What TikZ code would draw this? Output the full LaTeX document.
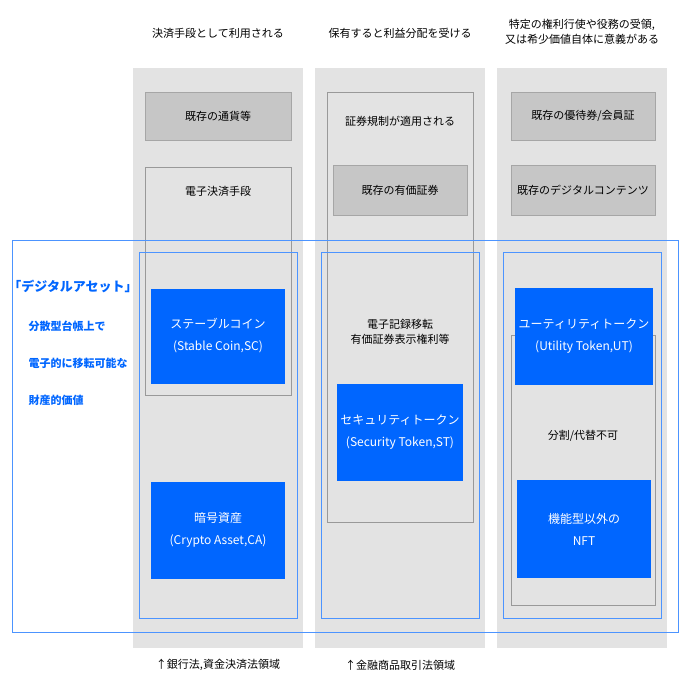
\documentclass[tikz,border=0pt]{standalone}
\usepackage{fontspec}
\setmainfont{Noto Sans CJK JP}
\definecolor{bg}{HTML}{E3E3E3}
\definecolor{dk}{HTML}{C6C6C6}
\definecolor{bl}{HTML}{0066FF}
\begin{document}
\begin{tikzpicture}[x=1pt,y=-1pt,
 t/.style={font=\fontsize{11}{15}\selectfont,align=center},
 col/.style={fill=bg,draw=none},
 dark/.style={fill=dk,draw=gray!70,t},
 outl/.style={draw=gray!80,line width=0.6pt},
 blb/.style={draw=bl!70,line width=0.6pt},
 tok/.style={fill=bl,draw=none,t,text=white,font=\fontsize{12}{22}\selectfont}]
\useasboundingbox (0,0) rectangle (683,683);
\fill[white] (0,0) rectangle (683,683);
\fill[col] (133,68) rectangle (303,648);
\fill[col] (315,68) rectangle (485,648);
\fill[col] (497,68) rectangle (667,648);
\node[t] (h1) at (218,33) {決済手段として利用される};
\node[t] (h2) at (400,33) {保有すると利益分配を受ける};
\node[t] (h3) at (582,32) {特定の権利行使や役務の受領,\\又は希少価値自体に意義がある};
\node[dark,minimum width=146,minimum height=48] (c1) at (218,116) {既存の通貨等};
\node[dark,minimum width=144,minimum height=48] (c3) at (583,116) {既存の優待券/会員証};
\node[dark,minimum width=144,minimum height=50] (c4) at (583,190) {既存のデジタルコンテンツ};
\node[dark,minimum width=134,minimum height=50] (c2) at (400,190) {既存の有価証券};
\draw[outl] (145,167) rectangle (291,395);
\node[t] (e1) at (218,191) {電子決済手段};
\draw[outl] (327,92) rectangle (473,522);
\node[t] (s1) at (400,121) {証券規制が適用される};
\draw[outl] (511,335) rectangle (655,605);
\node[t] (nf) at (583,436) {分割/代替不可};
\node[t] (d1) at (400,332) {電子記録移転\\有価証券表示権利等};
\draw[blb] (12,240) rectangle (678,632);
\draw[blb] (139,252) rectangle (297,618);
\draw[blb] (321,252) rectangle (479,618);
\draw[blb] (503,252) rectangle (661,618);
\node[tok,minimum width=134,minimum height=95] (sc) at (218,336) {ステーブルコイン\\(Stable Coin,SC)};
\node[tok,minimum width=134,minimum height=97] (ca) at (218,530) {暗号資産\\(Crypto Asset,CA)};
\node[tok,minimum width=122,minimum height=97] (st) at (400,432) {セキュリティトークン\\(Security Token,ST)};
\node[tok,minimum width=134,minimum height=97] (ut) at (584,336) {ユーティリティトークン\\(Utility Token,UT)};
\node[tok,minimum width=134,minimum height=98] (nft) at (584,529) {機能型以外の\\NFT};
\node[t,text=bl,font=\fontsize{13}{15}\bfseries] (da) at (73,286) {「デジタルアセット」};
\node[t,text=bl,font=\fontsize{11}{15}\bfseries,anchor=west] (l1) at (25,326) {分散型台帳上で};
\node[t,text=bl,font=\fontsize{11}{15}\bfseries,anchor=west] (l2) at (25,363) {電子的に移転可能な};
\node[t,text=bl,font=\fontsize{11}{15}\bfseries,anchor=west] (l3) at (25,400) {財産的価値};
\node[t] (b1) at (218,665) {↑銀行法,資金決済法領域};
\node[t] (b2) at (400,665) {↑金融商品取引法領域};
\end{tikzpicture}
\end{document}
